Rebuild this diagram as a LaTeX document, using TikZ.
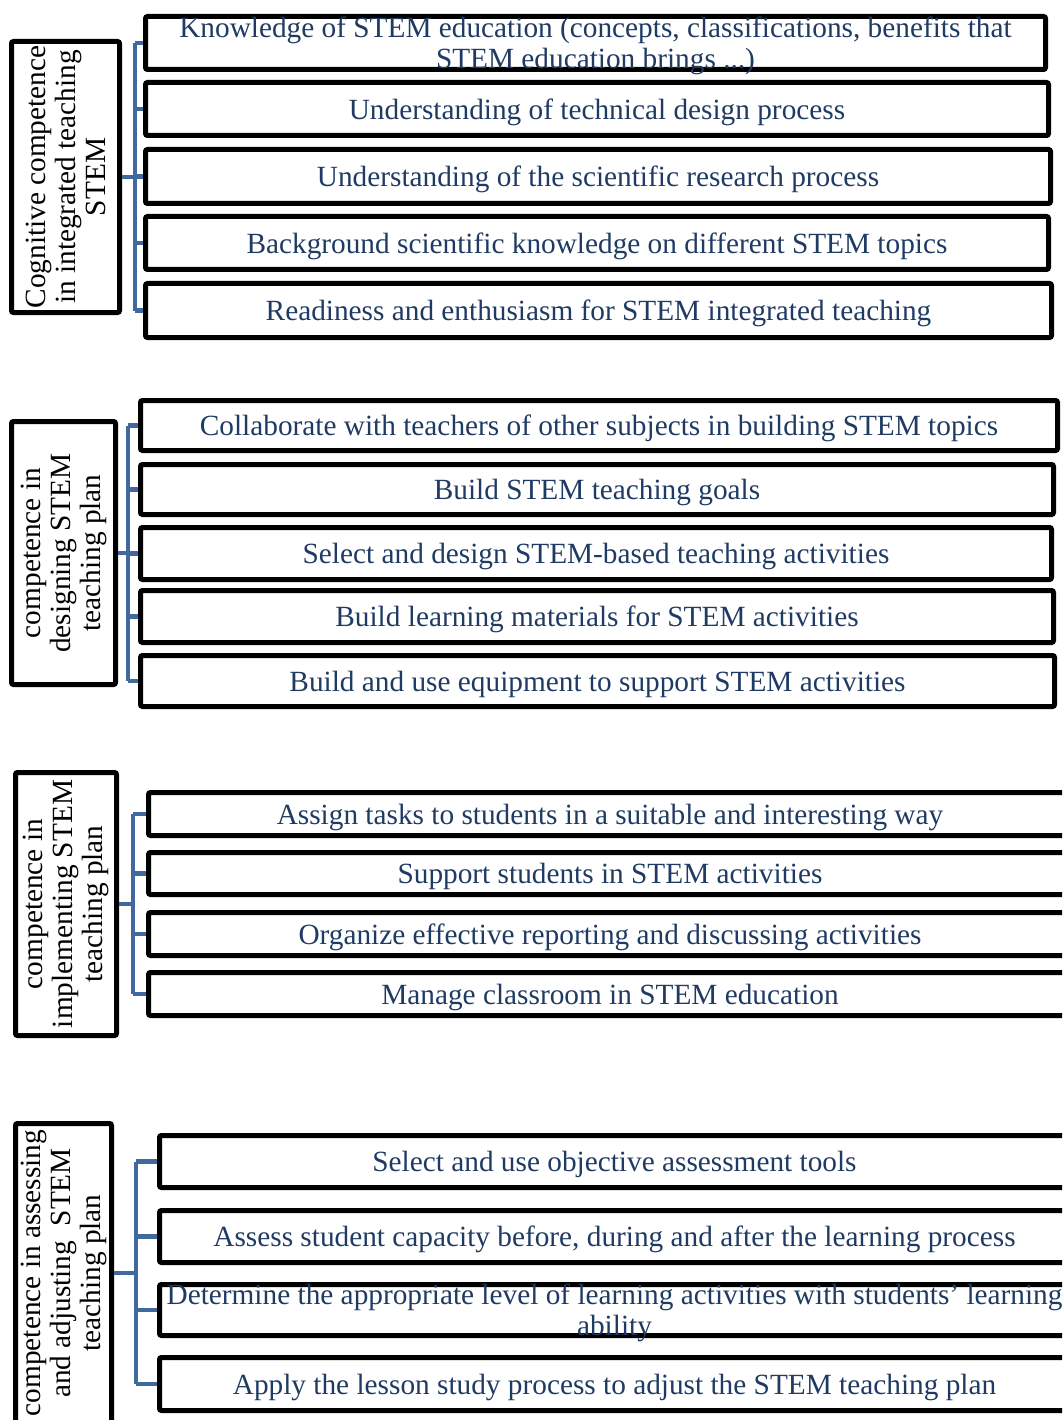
\documentclass[tikz,border=0pt]{standalone}
\usepackage{fontspec}
\setmainfont{Liberation Serif}
\definecolor{txtblue}{HTML}{1F3B63}
\definecolor{connblue}{HTML}{41699D}
\begin{document}
\begin{tikzpicture}[x=1pt,y=-1pt,
  rbox/.style={draw=black, line width=5pt, rounded corners=2pt, inner sep=0pt, fill=white},
  lbox/.style={draw=black, line width=5pt, rounded corners=2pt, inner sep=0pt, fill=white},
  rtxt/.style={text=txtblue, font=\fontsize{29.3}{31}\selectfont, align=center, inner sep=0pt, yshift=-3pt},
  ltxt/.style={text=black, font=\fontsize{29.3}{30}\selectfont, align=center, inner sep=0pt, rotate=90},
  conn/.style={draw=connblue, line width=4.5pt}]
\useasboundingbox (0,0) rectangle (1062,1420);
\clip (0,0) rectangle (1062,1420);
\fill[white] (0,0) rectangle (1062,1420);

% ---------- Section 1 ----------
\node[lbox, minimum width=108, minimum height=271] (L1) at (65.5,177) {};
\node[ltxt] (tL1) at (L1.center) {Cognitive competence\\in integrated teaching\\STEM};
\node[rbox, minimum width=900, minimum height=53] (a1) at (595.5,43) {};
\node[rbox, minimum width=903, minimum height=53] (a2) at (597,109) {};
\node[rbox, minimum width=905, minimum height=54] (a3) at (598,176.5) {};
\node[rbox, minimum width=903, minimum height=53] (a4) at (597,243) {};
\node[rbox, minimum width=906, minimum height=54] (a5) at (598.5,310.5) {};
\node[rtxt] (ta1) at (a1.center) {Knowledge of STEM education (concepts, classifications, benefits that\\STEM education brings ...)};
\node[rtxt] (ta2) at (a2.center) {Understanding of technical design process};
\node[rtxt] (ta3) at (a3.center) {Understanding of the scientific research process};
\node[rtxt] (ta4) at (a4.center) {Background scientific knowledge on different STEM topics};
\node[rtxt] (ta5) at (a5.center) {Readiness and enthusiasm for STEM integrated teaching};
\coordinate (v1) at (135,177);
\draw[conn] (L1.east |- v1) -- (v1);
\draw[conn] (v1 |- a1.west) -- (v1 |- a5.west);
\foreach \i in {1,...,5} {\draw[conn] (v1 |- a\i.west) -- (a\i.west);}

% ---------- Section 2 ----------
\node[lbox, minimum width=104, minimum height=263] (L2) at (63.5,553) {};
\node[ltxt] (tL2) at (L2.center) {competence in\\designing STEM\\teaching plan};
\node[rbox, minimum width=917, minimum height=50] (b1) at (599,425.5) {};
\node[rbox, minimum width=913, minimum height=50] (b2) at (597,489.5) {};
\node[rbox, minimum width=911, minimum height=52] (b3) at (596,553.5) {};
\node[rbox, minimum width=913, minimum height=52] (b4) at (597,616.5) {};
\node[rbox, minimum width=914, minimum height=51] (b5) at (597.5,681) {};
\node[rtxt] (tb1) at (b1.center) {Collaborate with teachers of other subjects in building STEM topics};
\node[rtxt] (tb2) at (b2.center) {Build STEM teaching goals};
\node[rtxt] (tb3) at (b3.center) {Select and design STEM-based teaching activities};
\node[rtxt] (tb4) at (b4.center) {Build learning materials for STEM activities};
\node[rtxt] (tb5) at (b5.center) {Build and use equipment to support STEM activities};
\coordinate (v2) at (128,553);
\draw[conn] (L2.east |- v2) -- (v2);
\draw[conn] (v2 |- b1.west) -- (v2 |- b5.west);
\foreach \i in {1,...,5} {\draw[conn] (v2 |- b\i.west) -- (b\i.west);}

% ---------- Section 3 ----------
\node[lbox, minimum width=101, minimum height=263] (L3) at (66,904) {};
\node[ltxt] (tL3) at (L3.center) {competence in\\implementing STEM\\teaching plan};
\node[rbox, minimum width=923, minimum height=43] (c1) at (610,814) {};
\node[rbox, minimum width=923, minimum height=42] (c2) at (610,873.5) {};
\node[rbox, minimum width=923, minimum height=43] (c3) at (610,934) {};
\node[rbox, minimum width=923, minimum height=43] (c4) at (610,994) {};
\node[rtxt] (tc1) at (c1.center) {Assign tasks to students in a suitable and interesting way};
\node[rtxt] (tc2) at (c2.center) {Support students in STEM activities};
\node[rtxt] (tc3) at (c3.center) {Organize effective reporting and discussing activities};
\node[rtxt] (tc4) at (c4.center) {Manage classroom in STEM education};
\coordinate (v3) at (133,904);
\draw[conn] (L3.east |- v3) -- (v3);
\draw[conn] (v3 |- c1.west) -- (v3 |- c4.west);
\foreach \i in {1,...,4} {\draw[conn] (v3 |- c\i.west) -- (c\i.west);}

% ---------- Section 4 ----------
\node[lbox, minimum width=96, minimum height=299] (L4) at (63.5,1273) {};
\node[ltxt] (tL4) at (L4.center) {competence in assessing\\and adjusting\ \ STEM\\teaching plan};
\node[rbox, minimum width=910, minimum height=52] (d1) at (614.5,1161.5) {};
\node[rbox, minimum width=910, minimum height=52] (d2) at (614.5,1236.5) {};
\node[rbox, minimum width=910, minimum height=51] (d3) at (614.5,1310) {};
\node[rbox, minimum width=910, minimum height=53] (d4) at (614.5,1384) {};
\node[rtxt] (td1) at (d1.center) {Select and use objective assessment tools};
\node[rtxt] (td2) at (d2.center) {Assess student capacity before, during and after the learning process};
\node[rtxt] (td3) at (d3.center) {Determine the appropriate level of learning activities with students' learning\\ability};
\node[rtxt] (td4) at (d4.center) {Apply the lesson study process to adjust the STEM teaching plan};
\coordinate (v4) at (136,1273);
\draw[conn] (L4.east |- v4) -- (v4);
\draw[conn] (v4 |- d1.west) -- (v4 |- d4.west);
\foreach \i in {1,...,4} {\draw[conn] (v4 |- d\i.west) -- (d\i.west);}
\end{tikzpicture}
\end{document}
